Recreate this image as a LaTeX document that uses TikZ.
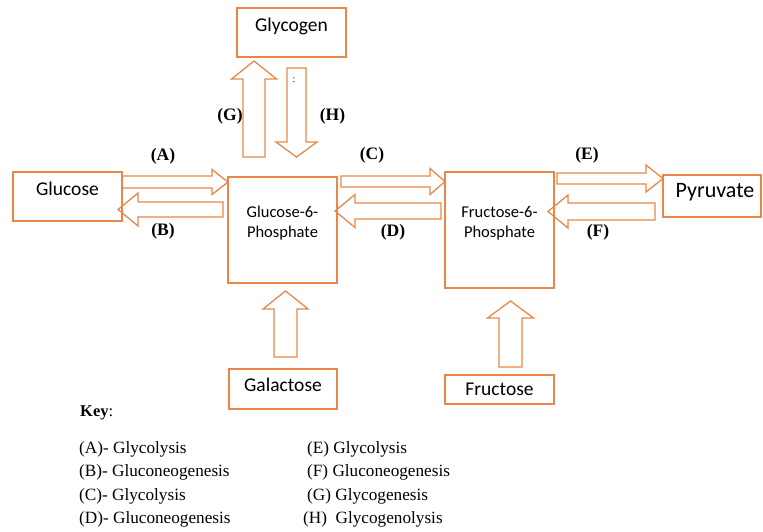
\documentclass[tikz,border=0pt]{standalone}
\usepackage{fontspec}
\setmainfont{Liberation Serif}
\newfontfamily\calibri{Carlito}
\usetikzlibrary{calc}
\definecolor{boxc}{HTML}{EA8748}
\newcommand{\lift}[2]{\raisebox{#1}[\height][\depth]{#2}}
\tikzset{
  box/.style={draw=boxc, line width=1.5pt, inner sep=0pt, outer sep=0pt,
    font=\calibri\fontsize{19.5}{23}\selectfont},
  tag/.style={font=\bfseries\fontsize{17.5}{20}\selectfont},
  keyitem/.style={anchor=west, inner sep=0pt, font=\fontsize{17.2}{20}\selectfont},
  blockarrow/.style n args={3}{draw=boxc, line width=1.3pt, line join=miter,
    to path={($(\tikztostart)!#1!90:(\tikztotarget)$)
      -- ($(\tikztotarget)!#3!(\tikztostart)!#1!90:(\tikztotarget)$)
      -- ($(\tikztotarget)!#3!(\tikztostart)!#2!90:(\tikztotarget)$)
      -- (\tikztotarget)
      -- ($(\tikztotarget)!#3!(\tikztostart)!#2!-90:(\tikztotarget)$)
      -- ($(\tikztotarget)!#3!(\tikztostart)!#1!-90:(\tikztotarget)$)
      -- ($(\tikztostart)!#1!-90:(\tikztotarget)$) -- cycle}}
}
\begin{document}
\begin{tikzpicture}[x=1pt, y=-1pt]
\useasboundingbox (0,0) rectangle (763,531);
% boxes
\node[box, minimum width=109, minimum height=49] (glycogen) at (291.5,32.5) {\lift{6pt}{Glycogen}};
\node[box, minimum width=109, minimum height=49] (glucose) at (67.5,196.5) {\lift{8pt}{Glucose}};
\node[box, minimum width=109, minimum height=106, font=\calibri\fontsize{16.5}{20}\selectfont] (g6p) at (282.5,230)
  {\lift{7pt}{\begin{tabular}{@{}c@{}}Glucose-6-\\Phosphate\end{tabular}}};
\node[box, minimum width=109, minimum height=116, font=\calibri\fontsize{16.5}{20}\selectfont] (f6p) at (499.5,230)
  {\lift{7pt}{\begin{tabular}{@{}c@{}}Fructose-6-\\Phosphate\end{tabular}}};
\node[box, minimum width=98, minimum height=42, font=\calibri\fontsize{22}{26}\selectfont] (pyruvate) at (712,196)
  {\lift{4pt}{\hspace*{6pt}Pyruvate}};
\node[box, minimum width=108, minimum height=40] (galactose) at (283,389) {\lift{4.5pt}{Galactose}};
\node[box, minimum width=109, minimum height=29] (fructose) at (499.5,389.5) {Fructose};
% arrow ends
\coordinate (aS) at (glucose.east |- 0,182);
\coordinate (aT) at (g6p.west |- 0,182);
\coordinate (bS) at (223,209.5);
\coordinate (bT) at (118,209.5);
\coordinate (cS) at (341,181.5);
\coordinate (cT) at (f6p.west |- 0,181.5);
\coordinate (dS) at (441,211);
\coordinate (dT) at (335,211);
\coordinate (eS) at (557,178.5);
\coordinate (eT) at (pyruvate.west |- 0,178.5);
\coordinate (fS) at (655,211.5);
\coordinate (fT) at (548,211.5);
\coordinate (gS) at (254,157);
\coordinate (gT) at (254,61);
\coordinate (hS) at (296.5,68);
\coordinate (hT) at (296.5,157);
\coordinate (galS) at (285.5,357);
\coordinate (galT) at (285.5,291);
\coordinate (fruS) at (510.5,367);
\coordinate (fruT) at (510.5,301);
% block arrows
\draw[blockarrow={6pt}{12.5pt}{16pt}] (aS) to (aT);
\draw[blockarrow={7.5pt}{16.5pt}{20pt}] (bS) to (bT);
\draw[blockarrow={5.5pt}{13pt}{15pt}] (cS) to (cT);
\draw[blockarrow={8pt}{16.5pt}{20pt}] (dS) to (dT);
\draw[blockarrow={5.5pt}{13.5pt}{17pt}] (eS) to (eT);
\draw[blockarrow={8.5pt}{16.5pt}{20pt}] (fS) to (fT);
\draw[blockarrow={11pt}{22.5pt}{18pt}] (gS) to (gT);
\draw[blockarrow={9.5pt}{20.5pt}{15pt}] (hS) to (hT);
\draw[blockarrow={11.5pt}{22.5pt}{18pt}] (galS) to (galT);
\draw[blockarrow={11.5pt}{23pt}{17pt}] (fruS) to (fruT);
\node[font=\fontsize{10}{11}\selectfont] (colon) at (294,80) {:};
% labels
\node[tag] (tA) at (163,156) {(A)};
\node[tag] (tB) at (163,231) {(B)};
\node[tag] (tC) at (372,155) {(C)};
\node[tag] (tD) at (393,232) {(D)};
\node[tag] (tE) at (587,155) {(E)};
\node[tag] (tF) at (598,232) {(F)};
\node[tag] (tG) at (230,116) {(G)};
\node[tag] (tH) at (332.5,116) {(H)};
% key
\node[keyitem, font=\fontsize{16.5}{19}\selectfont] (key) at (80,413) {\textbf{Key}:};
\node[keyitem] (kA) at (79,449) {(A)- Glycolysis};
\node[keyitem] (kB) at (79,472.5) {(B)- Gluconeogenesis};
\node[keyitem] (kC) at (79,496) {(C)- Glycolysis};
\node[keyitem] (kD) at (79,519.5) {(D)- Gluconeogenesis};
\node[keyitem] (kE) at (307,449) {(E) Glycolysis};
\node[keyitem] (kF) at (307,472.5) {(F) Gluconeogenesis};
\node[keyitem] (kG) at (307,496) {(G) Glycogenesis};
\node[keyitem] (kH) at (303,519.5) {(H)\ \ Glycogenolysis};
\end{tikzpicture}
\end{document}
